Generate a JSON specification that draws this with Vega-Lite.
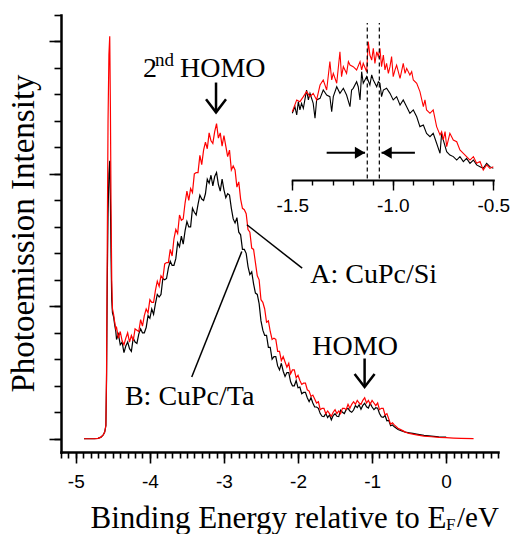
{
  "$schema": "https://vega.github.io/schema/vega-lite/v6.json",
  "width": 437,
  "height": 437,
  "autosize": "none",
  "padding": {"left": 61, "top": 15, "right": 14, "bottom": 82},
  "background": "white",
  "config": {
    "view": {"stroke": null},
    "axis": {"grid": false, "domainColor": "black", "tickColor": "black", "labelColor": "black", "titleColor": "black", "titleFontWeight": "normal", "labelFont": "Liberation Sans", "titleFont": "Liberation Serif", "labelOverlap": false, "labelFlush": false, "labelBound": false, "domainCap": "square"},
    "text": {"font": "Liberation Serif", "color": "black"}
  },
  "datasets": {
    "A": [
      {"e":-4.89,"i":0},{"e":-4.75,"i":0},{"e":-4.70,"i":0.003},{"e":-4.66,"i":0.012},{"e":-4.63,"i":0.03},{"e":-4.61,"i":0.05},{"e":-4.594,"i":0.10},{"e":-4.585,"i":0.5},{"e":-4.575,"i":1.5},{"e":-4.565,"i":2.4},{"e":-4.553,"i":2.9},{"e":-4.542,"i":3.04},{"e":-4.533,"i":2.5},{"e":-4.525,"i":1.8},{"e":-4.515,"i":1.2},{"e":-4.505,"i":0.98},{"e":-4.49,"i":0.94},{"e":-4.475,"i":0.88},{"e":-4.46,"i":0.83},
      {"e":-4.450,"i":0.84},{"e":-4.425,"i":0.76},{"e":-4.400,"i":0.81},{"e":-4.375,"i":0.74},{"e":-4.350,"i":0.71},{"e":-4.325,"i":0.76},{"e":-4.300,"i":0.80},{"e":-4.275,"i":0.73},{"e":-4.250,"i":0.78},{"e":-4.225,"i":0.74},
      {"e":-4.200,"i":0.83},{"e":-4.175,"i":0.82},{"e":-4.150,"i":0.81},{"e":-4.125,"i":0.90},{"e":-4.100,"i":0.85},{"e":-4.075,"i":0.93},{"e":-4.050,"i":0.98},{"e":-4.025,"i":0.95},{"e":-4.000,"i":1.05},{"e":-3.975,"i":1.03},
      {"e":-3.950,"i":1.03},{"e":-3.925,"i":1.12},{"e":-3.900,"i":1.19},{"e":-3.875,"i":1.15},{"e":-3.850,"i":1.23},{"e":-3.825,"i":1.21},{"e":-3.800,"i":1.32},{"e":-3.775,"i":1.33},{"e":-3.750,"i":1.33},{"e":-3.725,"i":1.43},
      {"e":-3.700,"i":1.38},{"e":-3.675,"i":1.51},{"e":-3.650,"i":1.58},{"e":-3.625,"i":1.55},{"e":-3.600,"i":1.69},{"e":-3.575,"i":1.65},{"e":-3.550,"i":1.66},{"e":-3.525,"i":1.78},{"e":-3.500,"i":1.87},{"e":-3.475,"i":1.80},
      {"e":-3.450,"i":1.89},{"e":-3.425,"i":1.86},{"e":-3.400,"i":2.00},{"e":-3.375,"i":2.01},{"e":-3.350,"i":2.01},{"e":-3.325,"i":2.14},{"e":-3.300,"i":2.07},{"e":-3.275,"i":2.18},{"e":-3.250,"i":2.24},{"e":-3.225,"i":2.19},
      {"e":-3.200,"i":2.31},{"e":-3.175,"i":2.25},{"e":-3.150,"i":2.23},{"e":-3.125,"i":2.32},{"e":-3.100,"i":2.38},{"e":-3.075,"i":2.27},{"e":-3.050,"i":2.31},{"e":-3.025,"i":2.21},{"e":-3.000,"i":2.29},{"e":-2.975,"i":2.21},
      {"e":-2.950,"i":2.13},{"e":-2.925,"i":2.18},{"e":-2.900,"i":2.03},{"e":-2.875,"i":2.06},{"e":-2.850,"i":2.03},{"e":-2.825,"i":1.90},{"e":-2.800,"i":1.94},{"e":-2.775,"i":1.81},{"e":-2.750,"i":1.74},{"e":-2.725,"i":1.73},
      {"e":-2.700,"i":1.70},{"e":-2.675,"i":1.58},{"e":-2.650,"i":1.56},{"e":-2.625,"i":1.44},{"e":-2.600,"i":1.43},{"e":-2.575,"i":1.33},{"e":-2.550,"i":1.23},{"e":-2.525,"i":1.20},{"e":-2.500,"i":1.05},{"e":-2.475,"i":1.03},
      {"e":-2.450,"i":0.98},{"e":-2.425,"i":0.88},{"e":-2.400,"i":0.89},{"e":-2.375,"i":0.81},{"e":-2.350,"i":0.75},{"e":-2.325,"i":0.76},{"e":-2.300,"i":0.75},{"e":-2.275,"i":0.66},{"e":-2.250,"i":0.66},{"e":-2.225,"i":0.59},
      {"e":-2.200,"i":0.62},{"e":-2.175,"i":0.58},{"e":-2.150,"i":0.54},{"e":-2.125,"i":0.57},{"e":-2.100,"i":0.49},{"e":-2.075,"i":0.52},{"e":-2.050,"i":0.52},{"e":-2.025,"i":0.46},{"e":-2.000,"i":0.48},{"e":-1.975,"i":0.44},
      {"e":-1.950,"i":0.41},{"e":-1.925,"i":0.42},{"e":-1.900,"i":0.42},{"e":-1.875,"i":0.37},{"e":-1.850,"i":0.36},{"e":-1.825,"i":0.32},{"e":-1.800,"i":0.33},{"e":-1.775,"i":0.30},{"e":-1.750,"i":0.27},{"e":-1.725,"i":0.28},
      {"e":-1.700,"i":0.22},{"e":-1.675,"i":0.23},{"e":-1.650,"i":0.23},{"e":-1.625,"i":0.19},{"e":-1.600,"i":0.21},{"e":-1.575,"i":0.19},{"e":-1.550,"i":0.17},{"e":-1.525,"i":0.20},{"e":-1.500,"i":0.22},{"e":-1.475,"i":0.19},
      {"e":-1.450,"i":0.21},{"e":-1.425,"i":0.19},{"e":-1.400,"i":0.23},{"e":-1.375,"i":0.23},{"e":-1.350,"i":0.22},{"e":-1.325,"i":0.26},{"e":-1.300,"i":0.23},{"e":-1.275,"i":0.26},{"e":-1.250,"i":0.28},{"e":-1.225,"i":0.26},
      {"e":-1.200,"i":0.29},{"e":-1.175,"i":0.27},{"e":-1.150,"i":0.26},{"e":-1.125,"i":0.29},{"e":-1.100,"i":0.31},{"e":-1.075,"i":0.27},{"e":-1.050,"i":0.29},{"e":-1.025,"i":0.26},{"e":-1.000,"i":0.29},{"e":-0.975,"i":0.27},
      {"e":-0.950,"i":0.25},{"e":-0.925,"i":0.27},{"e":-0.900,"i":0.22},{"e":-0.875,"i":0.23},{"e":-0.850,"i":0.23},{"e":-0.825,"i":0.18},{"e":-0.800,"i":0.19},{"e":-0.775,"i":0.15},{"e":-0.750,"i":0.11},{"e":-0.725,"i":0.12},
      {"e":-0.700,"i":0.105},{"e":-0.650,"i":0.08},{"e":-0.600,"i":0.065},{"e":-0.550,"i":0.05},{"e":-0.500,"i":0.04},{"e":-0.450,"i":0.035},{"e":-0.400,"i":0.03},{"e":-0.300,"i":0.02},{"e":-0.200,"i":0.015},{"e":-0.100,"i":0.01},
      {"e":0.000,"i":0.008},{"e":0.100,"i":0.005},{"e":0.200,"i":0.003},{"e":0.370,"i":0.001}
    ],
    "B": [
      {"e":-4.89,"i":0},{"e":-4.75,"i":0},{"e":-4.70,"i":0.003},{"e":-4.66,"i":0.012},{"e":-4.63,"i":0.03},{"e":-4.61,"i":0.05},{"e":-4.594,"i":0.10},{"e":-4.585,"i":0.45},{"e":-4.575,"i":1.2},{"e":-4.565,"i":1.7},{"e":-4.553,"i":2.0},{"e":-4.542,"i":2.10},{"e":-4.533,"i":1.8},{"e":-4.525,"i":1.4},{"e":-4.515,"i":1.05},{"e":-4.505,"i":0.95},{"e":-4.49,"i":0.92},{"e":-4.475,"i":0.86},{"e":-4.46,"i":0.81},
      {"e":-4.450,"i":0.75},{"e":-4.425,"i":0.79},{"e":-4.400,"i":0.71},{"e":-4.375,"i":0.73},{"e":-4.350,"i":0.65},{"e":-4.325,"i":0.70},{"e":-4.300,"i":0.73},{"e":-4.275,"i":0.68},{"e":-4.250,"i":0.66},{"e":-4.225,"i":0.76},
      {"e":-4.200,"i":0.73},{"e":-4.175,"i":0.72},{"e":-4.150,"i":0.79},{"e":-4.125,"i":0.83},{"e":-4.100,"i":0.80},{"e":-4.075,"i":0.80},{"e":-4.050,"i":0.84},{"e":-4.025,"i":0.93},{"e":-4.000,"i":0.91},{"e":-3.975,"i":0.98},
      {"e":-3.950,"i":0.94},{"e":-3.925,"i":1.02},{"e":-3.900,"i":1.09},{"e":-3.875,"i":1.07},{"e":-3.850,"i":1.09},{"e":-3.825,"i":1.21},{"e":-3.800,"i":1.20},{"e":-3.775,"i":1.21},{"e":-3.750,"i":1.29},{"e":-3.725,"i":1.34},
      {"e":-3.700,"i":1.31},{"e":-3.675,"i":1.31},{"e":-3.650,"i":1.36},{"e":-3.625,"i":1.48},{"e":-3.600,"i":1.45},{"e":-3.575,"i":1.53},{"e":-3.550,"i":1.47},{"e":-3.525,"i":1.57},{"e":-3.500,"i":1.64},{"e":-3.475,"i":1.60},
      {"e":-3.450,"i":1.60},{"e":-3.425,"i":1.74},{"e":-3.400,"i":1.71},{"e":-3.375,"i":1.69},{"e":-3.350,"i":1.77},{"e":-3.325,"i":1.84},{"e":-3.300,"i":1.81},{"e":-3.275,"i":1.80},{"e":-3.250,"i":1.85},{"e":-3.225,"i":1.96},
      {"e":-3.200,"i":1.93},{"e":-3.175,"i":1.99},{"e":-3.150,"i":1.91},{"e":-3.125,"i":1.98},{"e":-3.100,"i":2.01},{"e":-3.075,"i":1.92},{"e":-3.050,"i":1.87},{"e":-3.025,"i":1.96},{"e":-3.000,"i":1.88},{"e":-2.975,"i":1.82},
      {"e":-2.950,"i":1.85},{"e":-2.925,"i":1.84},{"e":-2.900,"i":1.74},{"e":-2.875,"i":1.66},{"e":-2.850,"i":1.63},{"e":-2.825,"i":1.67},{"e":-2.800,"i":1.56},{"e":-2.775,"i":1.54},{"e":-2.750,"i":1.43},{"e":-2.725,"i":1.43},
      {"e":-2.700,"i":1.40},{"e":-2.675,"i":1.30},{"e":-2.650,"i":1.24},{"e":-2.625,"i":1.26},{"e":-2.600,"i":1.17},{"e":-2.575,"i":1.10},{"e":-2.550,"i":1.09},{"e":-2.525,"i":1.02},{"e":-2.500,"i":0.89},{"e":-2.475,"i":0.82},
      {"e":-2.450,"i":0.78},{"e":-2.425,"i":0.78},{"e":-2.400,"i":0.69},{"e":-2.375,"i":0.69},{"e":-2.350,"i":0.60},{"e":-2.325,"i":0.62},{"e":-2.300,"i":0.62},{"e":-2.275,"i":0.55},{"e":-2.250,"i":0.52},{"e":-2.225,"i":0.57},
      {"e":-2.200,"i":0.51},{"e":-2.175,"i":0.47},{"e":-2.150,"i":0.50},{"e":-2.125,"i":0.50},{"e":-2.100,"i":0.43},{"e":-2.075,"i":0.40},{"e":-2.050,"i":0.40},{"e":-2.025,"i":0.44},{"e":-2.000,"i":0.385},{"e":-1.975,"i":0.39},
      {"e":-1.950,"i":0.34},{"e":-1.925,"i":0.35},{"e":-1.900,"i":0.35},{"e":-1.875,"i":0.31},{"e":-1.850,"i":0.28},{"e":-1.825,"i":0.31},{"e":-1.800,"i":0.27},{"e":-1.775,"i":0.24},{"e":-1.750,"i":0.24},{"e":-1.725,"i":0.23},
      {"e":-1.700,"i":0.19},{"e":-1.675,"i":0.17},{"e":-1.650,"i":0.167},{"e":-1.625,"i":0.19},{"e":-1.600,"i":0.16},{"e":-1.575,"i":0.18},{"e":-1.550,"i":0.143},{"e":-1.525,"i":0.175},{"e":-1.500,"i":0.19},{"e":-1.475,"i":0.17},
      {"e":-1.450,"i":0.167},{"e":-1.425,"i":0.215},{"e":-1.400,"i":0.20},{"e":-1.375,"i":0.19},{"e":-1.350,"i":0.22},{"e":-1.325,"i":0.23},{"e":-1.300,"i":0.21},{"e":-1.275,"i":0.20},{"e":-1.250,"i":0.217},{"e":-1.225,"i":0.25},
      {"e":-1.200,"i":0.235},{"e":-1.175,"i":0.257},{"e":-1.150,"i":0.222},{"e":-1.125,"i":0.252},{"e":-1.100,"i":0.268},{"e":-1.075,"i":0.241},{"e":-1.050,"i":0.232},{"e":-1.025,"i":0.267},{"e":-1.000,"i":0.24},{"e":-0.975,"i":0.22},
      {"e":-0.950,"i":0.234},{"e":-0.925,"i":0.231},{"e":-0.900,"i":0.191},{"e":-0.875,"i":0.166},{"e":-0.850,"i":0.162},{"e":-0.825,"i":0.176},{"e":-0.800,"i":0.136},{"e":-0.775,"i":0.139},{"e":-0.750,"i":0.098},{"e":-0.725,"i":0.104},
      {"e":-0.700,"i":0.09},{"e":-0.650,"i":0.07},{"e":-0.600,"i":0.06},{"e":-0.550,"i":0.05},{"e":-0.500,"i":0.045},{"e":-0.450,"i":0.04},{"e":-0.400,"i":0.035},{"e":-0.300,"i":0.025},{"e":-0.200,"i":0.02},{"e":-0.100,"i":0.015},{"e":0.000,"i":0.012}
    ],
    "insetA": [
      {"e":-1.500,"v":0.435},{"e":-1.478,"v":0.510},{"e":-1.462,"v":0.499},{"e":-1.445,"v":0.531},{"e":-1.429,"v":0.563},{"e":-1.412,"v":0.531},{"e":-1.396,"v":0.552},{"e":-1.379,"v":0.510},{"e":-1.362,"v":0.605},{"e":-1.346,"v":0.637},
      {"e":-1.329,"v":0.573},{"e":-1.313,"v":0.754},{"e":-1.304,"v":0.637},{"e":-1.296,"v":0.679},{"e":-1.279,"v":0.616},{"e":-1.263,"v":0.817},{"e":-1.255,"v":0.658},{"e":-1.246,"v":0.722},{"e":-1.230,"v":0.679},{"e":-1.221,"v":0.754},
      {"e":-1.213,"v":0.732},{"e":-1.197,"v":0.722},{"e":-1.180,"v":0.701},{"e":-1.163,"v":0.754},{"e":-1.155,"v":0.701},{"e":-1.147,"v":0.743},{"e":-1.130,"v":0.690},{"e":-1.122,"v":0.881},{"e":-1.114,"v":0.796},{"e":-1.105,"v":0.764},
      {"e":-1.097,"v":0.839},{"e":-1.089,"v":0.743},{"e":-1.080,"v":0.817},{"e":-1.072,"v":0.786},{"e":-1.064,"v":0.839},{"e":-1.056,"v":0.722},{"e":-1.047,"v":0.796},{"e":-1.039,"v":0.701},{"e":-1.031,"v":0.743},{"e":-1.022,"v":0.679},
      {"e":-1.014,"v":0.722},{"e":-1.006,"v":0.786},{"e":-0.998,"v":0.658},{"e":-0.989,"v":0.701},{"e":-0.981,"v":0.732},{"e":-0.964,"v":0.648},{"e":-0.948,"v":0.743},{"e":-0.939,"v":0.679},{"e":-0.931,"v":0.711},{"e":-0.915,"v":0.669},
      {"e":-0.906,"v":0.690},{"e":-0.898,"v":0.637},{"e":-0.881,"v":0.616},{"e":-0.865,"v":0.563},{"e":-0.848,"v":0.467},{"e":-0.840,"v":0.510},{"e":-0.832,"v":0.446},{"e":-0.815,"v":0.425},{"e":-0.799,"v":0.446},{"e":-0.782,"v":0.340},
      {"e":-0.765,"v":0.287},{"e":-0.757,"v":0.308},{"e":-0.749,"v":0.255},{"e":-0.740,"v":0.308},{"e":-0.732,"v":0.212},{"e":-0.716,"v":0.297},{"e":-0.699,"v":0.255},{"e":-0.682,"v":0.244},{"e":-0.666,"v":0.191},{"e":-0.649,"v":0.170},
      {"e":-0.633,"v":0.149},{"e":-0.616,"v":0.127},{"e":-0.599,"v":0.149},{"e":-0.583,"v":0.106},{"e":-0.566,"v":0.117},{"e":-0.550,"v":0.064},{"e":-0.533,"v":0.096},{"e":-0.517,"v":0.074},{"e":-0.500,"v":0.085}
    ],
    "insetB": [
      {"e":-1.500,"v":0.425},{"e":-1.487,"v":0.467},{"e":-1.478,"v":0.414},{"e":-1.470,"v":0.499},{"e":-1.462,"v":0.446},{"e":-1.454,"v":0.488},{"e":-1.445,"v":0.456},{"e":-1.429,"v":0.573},{"e":-1.420,"v":0.510},{"e":-1.412,"v":0.552},
      {"e":-1.396,"v":0.488},{"e":-1.387,"v":0.393},{"e":-1.379,"v":0.510},{"e":-1.362,"v":0.520},{"e":-1.346,"v":0.573},{"e":-1.329,"v":0.541},{"e":-1.313,"v":0.531},{"e":-1.304,"v":0.435},{"e":-1.296,"v":0.531},{"e":-1.279,"v":0.594},
      {"e":-1.263,"v":0.552},{"e":-1.246,"v":0.584},{"e":-1.230,"v":0.541},{"e":-1.213,"v":0.467},{"e":-1.205,"v":0.573},{"e":-1.197,"v":0.584},{"e":-1.180,"v":0.626},{"e":-1.172,"v":0.594},{"e":-1.163,"v":0.510},{"e":-1.155,"v":0.690},
      {"e":-1.147,"v":0.616},{"e":-1.130,"v":0.658},{"e":-1.114,"v":0.605},{"e":-1.105,"v":0.669},{"e":-1.097,"v":0.637},{"e":-1.080,"v":0.594},{"e":-1.072,"v":0.626},{"e":-1.064,"v":0.616},{"e":-1.056,"v":0.531},{"e":-1.047,"v":0.573},
      {"e":-1.031,"v":0.584},{"e":-1.014,"v":0.552},{"e":-0.998,"v":0.510},{"e":-0.981,"v":0.531},{"e":-0.964,"v":0.478},{"e":-0.948,"v":0.510},{"e":-0.931,"v":0.467},{"e":-0.915,"v":0.425},{"e":-0.898,"v":0.446},{"e":-0.881,"v":0.403},
      {"e":-0.865,"v":0.340},{"e":-0.848,"v":0.350},{"e":-0.832,"v":0.297},{"e":-0.815,"v":0.276},{"e":-0.799,"v":0.297},{"e":-0.782,"v":0.234},{"e":-0.765,"v":0.170},{"e":-0.757,"v":0.297},{"e":-0.749,"v":0.255},{"e":-0.732,"v":0.180},
      {"e":-0.716,"v":0.159},{"e":-0.699,"v":0.149},{"e":-0.682,"v":0.127},{"e":-0.666,"v":0.149},{"e":-0.649,"v":0.117},{"e":-0.633,"v":0.138},{"e":-0.616,"v":0.106},{"e":-0.599,"v":0.127},{"e":-0.583,"v":0.096},{"e":-0.566,"v":0.085},
      {"e":-0.550,"v":0.074},{"e":-0.533,"v":0.106},{"e":-0.517,"v":0.085},{"e":-0.500,"v":0.074}
    ],
    "labels": [
      {"e":-4.337,"i":0.252,"text":"B: CuPc/Ta"},
      {"e":-1.834,"i":1.177,"text":"A: CuPc/Si"},
      {"e":-1.807,"i":0.631,"text":"HOMO"},
      {"e":-3.593,"i":2.730,"text":"HOMO"},
      {"e":-4.094,"i":2.730,"text":"2"}
    ],
    "sup": [{"e":-3.93,"i":2.815,"text":"nd"}],
    "sub": [{"e":-0.003,"i":-0.688,"text":"F"}],
    "unit": [{"e":0.146,"i":-0.666,"text":"/eV"}],
    "leaders": [
      {"e":-2.690,"i":1.616,"e2":-1.944,"i2":1.288},
      {"e":-2.759,"i":1.414,"e2":-3.435,"i2":0.467}
    ],
    "arrows": [
      {"e":-3.107,"i":2.69,"i2":2.465},
      {"e":-1.101,"i":0.606,"i2":0.391}
    ],
    "dashes": [
      {"e":-1.127,"v":0.01,"v2":1.0},
      {"e":-1.067,"v":0.01,"v2":1.0}
    ],
    "insetRight": [{"e":-1.329,"e2":-1.138,"v":0.174}],
    "insetLeft": [{"e":-0.890,"e2":-1.056,"v":0.174}]
  },
  "resolve": {"scale": {"x": "independent", "y": "independent"}, "axis": {"x": "independent", "y": "independent"}},
  "layer": [
    {
      "resolve": {"axis": {"x": "independent", "y": "independent"}},
      "layer": [
        {
          "data": {"name": "B"},
          "mark": {"type": "line", "color": "black", "strokeWidth": 1.2},
          "encoding": {
            "x": {"field": "e", "type": "quantitative", "scale": {"domain": [-5.2, 0.7], "nice": false, "zero": false},
              "axis": {
                "orient": "bottom",
                "values": [-5, -4, -3, -2, -1, 0],
                "labelExpr": "datum.value < 0 ? '-' + abs(datum.value) : '' + datum.value",
                "tickSize": 11, "tickWidth": 1.6, "domainWidth": 2.5,
                "labelFontSize": 19, "labelPadding": 9, "labelOverlap": false,
                "title": "Binding Energy relative to E",
                "titleFontSize": 31, "titleX": 29, "titleY": 75, "titleAlign": "left", "titleBaseline": "alphabetic"
              }},
            "y": {"field": "i", "type": "quantitative", "scale": {"domain": [-0.1, 3.2], "nice": false, "zero": false},
              "axis": {
                "orient": "left",
                "values": [0, 1, 2, 3],
                "labels": false,
                "tickSize": 12, "tickWidth": 1.6, "domainWidth": 2.5,
                "title": "Photoemission Intensity",
                "titleFontSize": 33, "titleX": -28, "titleY": 218, "titleAlign": "center", "titleBaseline": "alphabetic", "titleAngle": 270
              }}
          }
        },
        {
          "data": {"name": "A"},
          "mark": {"type": "line", "color": "#ff0000", "strokeWidth": 1.2},
          "encoding": {
            "x": {"field": "e", "type": "quantitative",
              "axis": {
                "orient": "bottom",
                "values": [-5.2,-5.1,-5,-4.9,-4.8,-4.7,-4.6,-4.5,-4.4,-4.3,-4.2,-4.1,-4,-3.9,-3.8,-3.7,-3.6,-3.5,-3.4,-3.3,-3.2,-3.1,-3,-2.9,-2.8,-2.7,-2.6,-2.5,-2.4,-2.3,-2.2,-2.1,-2,-1.9,-1.8,-1.7,-1.6,-1.5,-1.4,-1.3,-1.2,-1.1,-1,-0.9,-0.8,-0.7,-0.6,-0.5,-0.4,-0.3,-0.2,-0.1,0,0.1,0.2,0.3,0.4,0.5,0.6,0.7],
                "labels": false, "domain": false, "tickSize": 6, "tickWidth": 1.6, "title": null
              }},
            "y": {"field": "i", "type": "quantitative",
              "axis": {
                "orient": "left",
                "values": [0,0.2,0.4,0.6,0.8,1,1.2,1.4,1.6,1.8,2,2.2,2.4,2.6,2.8,3,3.2],
                "labels": false, "domain": false, "tickSize": 7, "tickWidth": 1.6, "title": null
              }}
          }
        },
        {
          "data": {"name": "leaders"},
          "mark": {"type": "rule", "color": "black", "strokeWidth": 1.5},
          "encoding": {
            "x": {"field": "e", "type": "quantitative", "axis": null},
            "y": {"field": "i", "type": "quantitative", "axis": null},
            "x2": {"field": "e2"},
            "y2": {"field": "i2"}
          }
        },
        {
          "data": {"name": "arrows"},
          "mark": {"type": "rule", "color": "black", "strokeWidth": 2.5},
          "encoding": {
            "x": {"field": "e", "type": "quantitative", "axis": null},
            "y": {"field": "i", "type": "quantitative", "axis": null},
            "y2": {"field": "i2"}
          }
        },
        {
          "data": {"name": "arrows"},
          "mark": {"type": "point", "shape": "M-1,-1.3L0,0L1,-1.3", "size": 400, "filled": false, "stroke": "black", "strokeWidth": 2.5, "opacity": 1},
          "encoding": {
            "x": {"field": "e", "type": "quantitative", "axis": null},
            "y": {"field": "i2", "type": "quantitative", "axis": null}
          }
        },
        {
          "data": {"name": "labels"},
          "mark": {"type": "text", "fontSize": 28, "align": "left", "baseline": "alphabetic"},
          "encoding": {
            "x": {"field": "e", "type": "quantitative", "axis": null},
            "y": {"field": "i", "type": "quantitative", "axis": null},
            "text": {"field": "text"}
          }
        },
        {
          "data": {"name": "sup"},
          "mark": {"type": "text", "fontSize": 19, "align": "left", "baseline": "alphabetic"},
          "encoding": {
            "x": {"field": "e", "type": "quantitative", "axis": null},
            "y": {"field": "i", "type": "quantitative", "axis": null},
            "text": {"field": "text"}
          }
        },
        {
          "data": {"name": "sub"},
          "mark": {"type": "text", "fontSize": 17, "align": "left", "baseline": "alphabetic"},
          "encoding": {
            "x": {"field": "e", "type": "quantitative", "axis": null},
            "y": {"field": "i", "type": "quantitative", "axis": null},
            "text": {"field": "text"}
          }
        },
        {
          "data": {"name": "unit"},
          "mark": {"type": "text", "fontSize": 29, "align": "left", "baseline": "alphabetic"},
          "encoding": {
            "x": {"field": "e", "type": "quantitative", "axis": null},
            "y": {"field": "i", "type": "quantitative", "axis": null},
            "text": {"field": "text"}
          }
        }
      ]
    },
    {
      "resolve": {"axis": {"x": "independent", "y": "independent"}},
      "layer": [
        {
          "data": {"name": "insetB"},
          "mark": {"type": "line", "color": "black", "strokeWidth": 1.1},
          "encoding": {
            "x": {"field": "e", "type": "quantitative", "scale": {"domain": [-1.5, -0.5], "nice": false, "zero": false, "range": [231.3, 432.3]},
              "axis": {
                "orient": "bottom", "offset": -272,
                "values": [-1.5, -1, -0.5],
                "labelExpr": "'-' + format(abs(datum.value), '.1f')",
                "tickSize": 10, "tickWidth": 1.4, "domainWidth": 2,
                "labelFontSize": 19, "labelPadding": 6, "labelOverlap": false,
                "title": null
              }},
            "y": {"field": "v", "type": "quantitative", "scale": {"domain": [0, 1], "nice": false, "zero": false, "range": [165, 8]}, "axis": null}
          }
        },
        {
          "data": {"name": "insetA"},
          "mark": {"type": "line", "color": "#ff0000", "strokeWidth": 1.1},
          "encoding": {
            "x": {"field": "e", "type": "quantitative",
              "axis": {
                "orient": "bottom", "offset": -272,
                "values": [-1.5,-1.4,-1.3,-1.2,-1.1,-1,-0.9,-0.8,-0.7,-0.6,-0.5],
                "labels": false, "domain": false, "tickSize": 5, "tickWidth": 1.4, "title": null
              }},
            "y": {"field": "v", "type": "quantitative", "axis": null}
          }
        },
        {
          "data": {"name": "dashes"},
          "mark": {"type": "rule", "color": "black", "strokeWidth": 1.2, "strokeDash": [4, 3]},
          "encoding": {
            "x": {"field": "e", "type": "quantitative", "axis": null},
            "y": {"field": "v", "type": "quantitative", "axis": null},
            "y2": {"field": "v2"}
          }
        },
        {
          "data": {"name": "insetRight"},
          "mark": {"type": "rule", "color": "black", "strokeWidth": 2},
          "encoding": {
            "x": {"field": "e", "type": "quantitative", "axis": null},
            "x2": {"field": "e2"},
            "y": {"field": "v", "type": "quantitative", "axis": null}
          }
        },
        {
          "data": {"name": "insetLeft"},
          "mark": {"type": "rule", "color": "black", "strokeWidth": 2},
          "encoding": {
            "x": {"field": "e", "type": "quantitative", "axis": null},
            "x2": {"field": "e2"},
            "y": {"field": "v", "type": "quantitative", "axis": null}
          }
        },
        {
          "data": {"name": "insetRight"},
          "mark": {"type": "point", "shape": "M0,0L-1.7,-1L-1.7,1Z", "size": 144, "filled": true, "color": "black", "opacity": 1},
          "encoding": {
            "x": {"field": "e2", "type": "quantitative", "axis": null},
            "y": {"field": "v", "type": "quantitative", "axis": null}
          }
        },
        {
          "data": {"name": "insetLeft"},
          "mark": {"type": "point", "shape": "M0,0L1.7,-1L1.7,1Z", "size": 144, "filled": true, "color": "black", "opacity": 1},
          "encoding": {
            "x": {"field": "e2", "type": "quantitative", "axis": null},
            "y": {"field": "v", "type": "quantitative", "axis": null}
          }
        }
      ]
    }
  ]
}
